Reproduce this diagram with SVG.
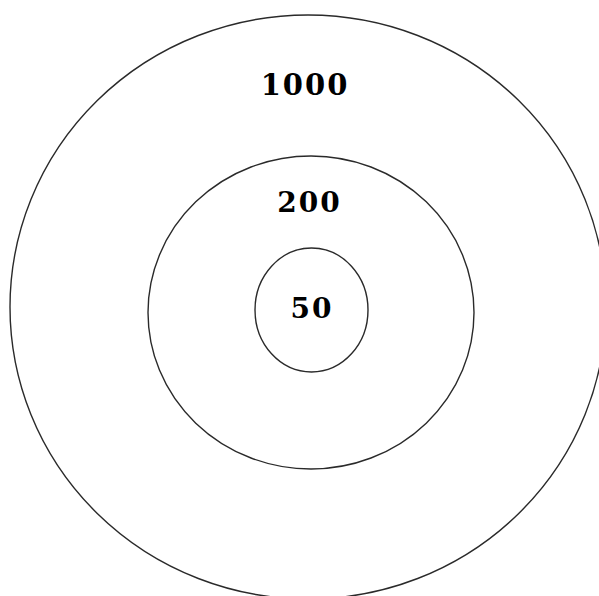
<svg xmlns="http://www.w3.org/2000/svg" width="599" height="596" viewBox="0 0 599 596">
<style>
.ring{fill:none;stroke:#2a2a2a;stroke-width:1.4}
.lbl{font-family:"DejaVu Serif","Liberation Serif",serif;font-weight:bold;fill:#000;text-anchor:middle;letter-spacing:2px}
</style>
<rect width="599" height="596" fill="#fff"/>
<g id="outer">
<ellipse class="ring" cx="308" cy="307" rx="298" ry="292"/>
<text class="lbl" x="305" y="95" font-size="29">1000</text>
</g>
<g id="middle">
<ellipse class="ring" cx="311" cy="312.5" rx="163" ry="156.5"/>
<text class="lbl" x="309.5" y="212" font-size="28">200</text>
</g>
<g id="inner">
<ellipse class="ring" cx="311.5" cy="310" rx="56.5" ry="62"/>
<text class="lbl" x="312" y="318" font-size="28">50</text>
</g>
<g id="connectors"/>
</svg>
